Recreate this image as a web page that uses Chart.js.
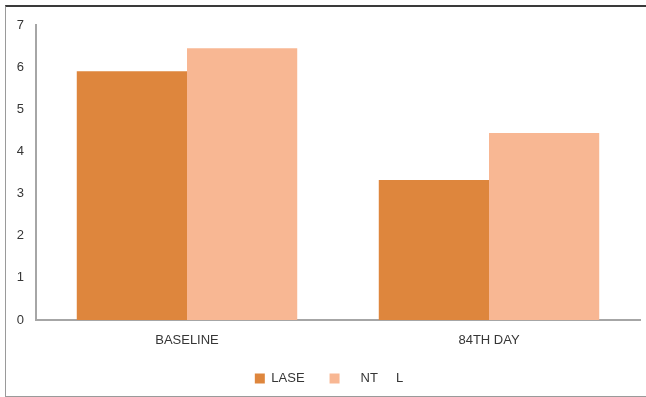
<!DOCTYPE html>
<html>
<head>
<meta charset="utf-8">
<script src="https://cdn.jsdelivr.net/npm/chart.js@4"></script>
<style>
  html, body { margin: 0; padding: 0; background: #fff; }
  #wrap { position: absolute; left: 0; top: 0; width: 646px; height: 397px; }
  #frame {
    position: absolute; left: 5px; top: 5px; width: 700px; height: 389px;
    border-top: 2px solid #3a3a3a; border-left: 1px solid #9a9a9a; border-bottom: 2px solid #9a9a9a;
    pointer-events: none;
  }
</style>
</head>
<body>
<div id="wrap"><canvas id="c" width="646" height="397"></canvas></div>
<div id="frame"></div>
<script>
// Categories and series values
const categories = ['BASELINE', '84TH DAY'];
const laseValues = [5.9, 3.32];
const ntlValues = [6.45, 4.44];
const seriesNames = ['LASE', '    NT     L     '];
const yTicks = [0, 1, 2, 3, 4, 5, 6, 7];

const FONT = "'Liberation Sans', Arial, sans-serif";
const textColor = '#363636';
const axisColor = '#a6a6a6';

new Chart(document.getElementById('c'), {
  type: 'bar',
  data: {
    labels: categories,
    datasets: [
      { label: seriesNames[0], data: laseValues, backgroundColor: '#de863d', borderWidth: 0 },
      { label: seriesNames[1], data: ntlValues, backgroundColor: '#f8b793', borderWidth: 0 }
    ]
  },
  options: {
    responsive: false,
    animation: false,
    devicePixelRatio: 1,
    categoryPercentage: 0.73,
    barPercentage: 1.0,
    layout: { padding: { left: 0, top: 25, right: 6, bottom: 2 } },
    plugins: {
      tooltip: { enabled: false },
      legend: {
        position: 'bottom',
        fullSize: false,
        labels: {
          boxWidth: 10, boxHeight: 10, padding: 25,
          color: textColor,
          font: { family: FONT, size: 13 }
        }
      }
    },
    scales: {
      x: {
        grid: { display: false, drawTicks: false },
        border: { display: true, color: axisColor, width: 2 },
        ticks: { color: textColor, font: { family: FONT, size: 13 }, padding: 13 },
        afterFit: (s) => { s.height = 27; }
      },
      y: {
        min: 0, max: 7,
        afterBuildTicks: (s) => { s.ticks = yTicks.map(v => ({ value: v })); },
        grid: { display: false, drawTicks: false },
        border: { display: true, color: axisColor, width: 2 },
        ticks: { color: textColor, font: { family: FONT, size: 13 }, padding: 12 },
        afterFit: (s) => { s.width = 36; }
      }
    }
  }
});
</script>
</body>
</html>
